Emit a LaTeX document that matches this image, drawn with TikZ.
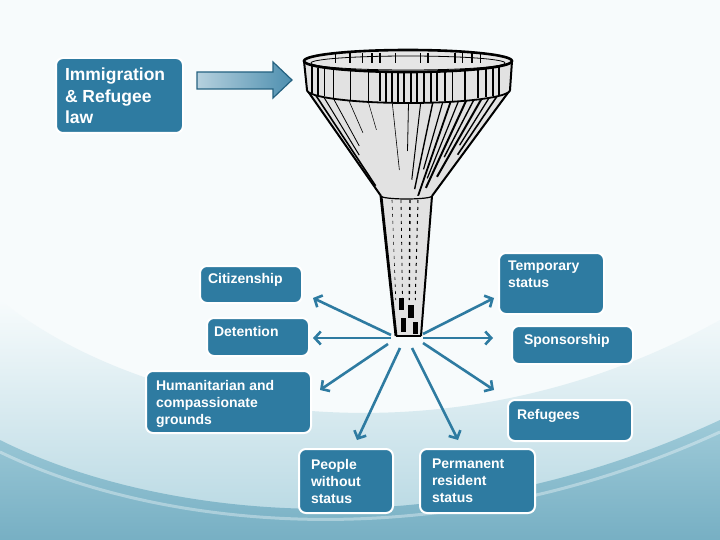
\documentclass[tikz,border=0pt]{standalone}
\usepackage{fontspec}
\setmainfont{Liberation Sans}
\usetikzlibrary{arrows.meta}

\definecolor{panelblue}{HTML}{2E7BA1}
\definecolor{bgtop}{HTML}{F7FBFC}
\definecolor{bgmid}{HTML}{B3D6E1}
\definecolor{bglow}{HTML}{9ECAD8}
\definecolor{bgdeep}{HTML}{72ACC1}
\definecolor{metal}{HTML}{E2E2E2}

% top-aligned text block of given width and height
\newcommand{\tbox}[3]{\parbox[t][#2pt][t]{#1pt}{\raggedright #3}}

\tikzset{
  panel/.style={draw=white, line width=2pt, fill=panelblue, rounded corners=7pt,
    anchor=north west, outer sep=0pt, text=white,
    font=\bfseries\fontsize{14}{17}\selectfont},
  flow/.style={draw=panelblue, line width=2.6pt,
    -{Straight Barb[length=6pt,width=13pt]}}
}

\begin{document}
\begin{tikzpicture}[x=1pt,y=-1pt]
        \useasboundingbox (0,0) rectangle (720,540);
        % Background with the soft blue wave
        \fill[bgtop] (0,0) rectangle (720,540);
        \shade[top color=bgtop, bottom color=bgmid]
            (0,300) .. controls (150,420) and (450,470) .. (720,320) -- (720,540) -- (0,540) -- cycle;
        \shade[top color=bglow, bottom color=bgdeep]
            (0,440) .. controls (150,515) and (430,555) .. (720,420) -- (720,540) -- (0,540) -- cycle;
        \draw[white, opacity=0.35, line width=3pt]
            (0,452) .. controls (150,525) and (430,565) .. (720,432);

        % The source box and its block arrow
        \node[panel, inner xsep=9pt, inner ysep=10pt,
              font=\bfseries\fontsize{17.5}{21.5}\selectfont] (law) at (56,58)
            {\tbox{109}{55}{Immigration\\\& Refugee\\law}};
        \shade[left color=panelblue!35, right color=panelblue!85, draw=panelblue!80!black, line width=1.2pt]
            (197,72) -- (273,72) -- (273,62) -- (292,80) -- (273,98) -- (273,89) -- (197,89) -- cycle;

        % Funnel cone
        \fill[metal] (307,90) -- (381,196) arc[start angle=180, end angle=0, x radius=25.5, y radius=3]
            -- (510,90) arc[start angle=0, end angle=180, x radius=101.5, y radius=13] -- cycle;
        \foreach \t/\w/\f in {0.03/1.6/0.9, 0.07/1/0.6, 0.12/0.8/0.5, 0.2/0.6/0.35, 0.3/0.5/0.3,
                0.42/0.6/0.7, 0.5/0.8/0.5, 0.56/1/0.8, 0.62/1.4/0.9, 0.67/1.2/0.7, 0.71/1.8/1,
                0.75/1.2/0.8, 0.79/2/0.9, 0.83/1.4/0.6, 0.87/2/0.8, 0.91/1.3/0.5, 0.95/1.6/0.6}{
            \draw[line width=\w pt] ({307+203*\t},{90+13*sin(180*\t)})
                -- ({307+203*\t+\f*(74-152*\t)},{90+13*sin(180*\t)+\f*(106-10*sin(180*\t))});
        }
        \draw[line width=2pt] (307,90) -- (381,196);
        \draw[line width=2pt] (510,90) -- (432,196);

        % Funnel spout
        \fill[metal] (381,196) -- (396,336) -- (421,336) -- (432,196) -- cycle;
        \foreach \x/\w in {392/0.6, 401/0.8, 410/1.4, 418/1}{
            \draw[line width=\w pt, dash pattern=on 3pt off 4pt] (\x,200) -- ({\x+(407-\x)*0.25},300);
        }
        \fill (399,298) rectangle (404,310);
        \fill (408,305) rectangle (414,318);
        \fill (401,318) rectangle (406,332);
        \fill (413,322) rectangle (418,334);
        \draw[line width=2.8pt] (381,196) -- (396,336);
        \draw[line width=2pt] (432,196) -- (421,336);
        \draw[line width=2pt] (396,336) -- (421,336);
        \draw[line width=1.2pt] (381,196) arc[start angle=180, end angle=0, x radius=25.5, y radius=3];

        % Funnel rim band
        \fill[metal] (304,61) -- (307,90) arc[start angle=180, end angle=0, x radius=101.5, y radius=13]
            -- (512,61) arc[start angle=0, end angle=180, x radius=104, y radius=11] -- cycle;
        \foreach \x/\w in {312/2, 318/1.5, 324/1, 333/0.8, 350/0.6, 368/0.8, 380/1.2, 386/1.6,
                392/1.2, 398/2, 404/1.4, 411/2, 417/1.6, 424/2, 431/1.2, 437/1.8, 445/1.4,
                452/0.8, 465/2, 478/1.2, 486/1.8, 493/1.2, 499/2}{
            \draw[line width=\w pt] (\x,{61+11*sqrt(1-(\x-408)*(\x-408)/10816)+1})
                -- (\x,{90+13*sqrt(1-(\x-408.5)*(\x-408.5)/10302)-1});
        }
        \draw[line width=2pt] (304,61) -- (307,90);
        \draw[line width=2pt] (512,61) -- (510,90);
        \draw[line width=1.8pt] (307,90) arc[start angle=180, end angle=0, x radius=101.5, y radius=13];

        % Funnel mouth
        \filldraw[fill=metal!85, line width=2.6pt] (408,61) ellipse[x radius=104, y radius=11];
        \foreach \x/\w in {335/1, 350/1.6, 362/1, 372/2, 380/1.2, 395/0.8, 420/0.8, 428/1.2,
                455/1.4, 462/1, 472/1.6, 480/1}{
            \draw[line width=\w pt] (\x,53) -- (\x,63);
        }
        \draw[line width=0.8pt] (408,63) ellipse[x radius=97, y radius=7];

        % The outcome boxes
        \node[panel, inner xsep=8pt, inner ysep=7pt] (cit) at (200,266) {\tbox{86}{23}{Citizenship}};
        \node[panel, inner xsep=7pt, inner ysep=8pt] (det) at (207,318) {\tbox{88}{22}{Detention}};
        \node[panel, inner xsep=10pt, inner ysep=9pt] (hum) at (146,371)
            {\tbox{145}{44}{Humanitarian and\\compassionate\\grounds}};
        \node[panel, inner xsep=12pt, inner ysep=10pt] (ppl) at (299,449)
            {\tbox{70}{44}{People\\without\\status}};
        \node[panel, inner xsep=12pt, inner ysep=10pt] (perm) at (420,449)
            {\tbox{91}{44}{Permanent\\resident\\status}};
        \node[panel, inner xsep=9pt, inner ysep=9pt] (ref) at (508,400) {\tbox{106}{23}{Refugees}};
        \node[panel, inner xsep=12pt, inner ysep=8pt] (spo) at (512,326) {\tbox{97}{22}{Sponsorship}};
        \node[panel, inner xsep=9pt, inner ysep=8pt] (tmp) at (499,253)
            {\tbox{87}{45}{Temporary\\status}};

        % Arrows out of the spout
        \coordinate (spout) at (407,340);
        \draw[flow] ([shift={(-16,-5)}]spout) -- ([shift={(11,-5)}]cit.south east);
        \draw[flow] ([shift={(-16,-2)}]spout) -- ([shift={(4,1)}]det.east);
        \draw[flow] ([shift={(-19,4)}]spout) -- ([shift={(9,19)}]hum.north east);
        \draw[flow] ([shift={(-7,8)}]spout) -- ([shift={(11,-9)}]ppl.north);
        \draw[flow] ([shift={(5,8)}]spout) -- ([shift={(-19.5,-9)}]perm.north);
        \draw[flow] ([shift={(16,3)}]spout) -- ([shift={(-14,-10)}]ref.north west);
        \draw[flow] ([shift={(16,-2)}]spout) -- ([shift={(-19,-7)}]spo.west);
        \draw[flow] ([shift={(16,-6)}]spout) -- ([shift={(-5,-16)}]tmp.south west);
    \end{tikzpicture}
\end{document}
